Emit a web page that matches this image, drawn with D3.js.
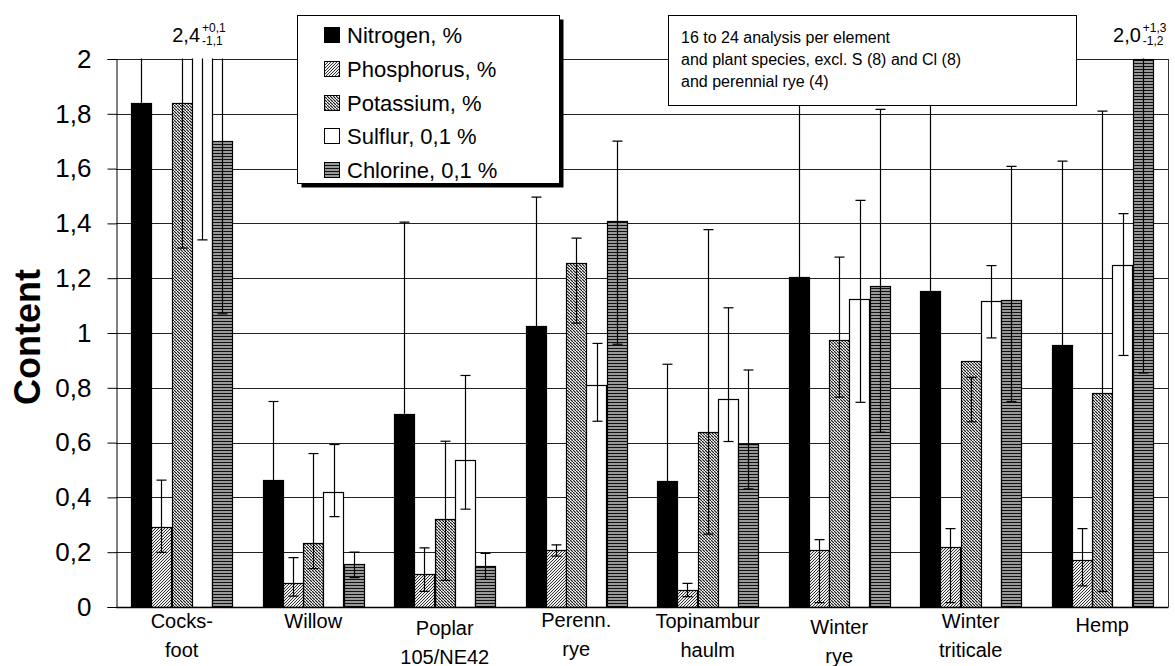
<!DOCTYPE html>
<html>
<head>
<meta charset="utf-8">
<script src="https://cdn.jsdelivr.net/npm/d3@7"></script>
<style>
body { margin: 0; background: #fff; }
text { font-family: "Liberation Sans", Arial, sans-serif; fill: #000; }
</style>
</head>
<body>
<svg id="chart" width="1175" height="666"></svg>
<script>
// categories (two-line labels)
var categories = [["Cocks-", "foot"], ["Willow"], ["Poplar", "105/NE42"], ["Perenn.", "rye"],
                  ["Topinambur", "haulm"], ["Winter", "rye"], ["Winter", "triticale"], ["Hemp"]];
var labelShift = [0, 0, 7, -1, 0, 6, 0, 4];

var seriesNames = ["Nitrogen, %", "Phosphorus, %", "Potassium, %", "Sulflur, 0,1 %", "Chlorine, 0,1 %"];

// mean values
var nitrogen   = [1.84, 0.463, 0.705, 1.024, 0.459, 1.203, 1.153, 0.955];
var phosphorus = [0.293, 0.089, 0.119, 0.209, 0.061, 0.209, 0.220, 0.172];
var potassium  = [1.84, 0.232, 0.322, 1.254, 0.638, 0.973, 0.897, 0.78];
var sulfur     = [2.4, 0.418, 0.536, 0.811, 0.759, 1.124, 1.115, 1.247];
var chlorine   = [1.70, 0.157, 0.151, 1.409, 0.595, 1.173, 1.122, 2.0];

// error bar bounds (low, high); null = not visible
var nitrogenLo   = [null, null, null, null, null, null, null, null];
var nitrogenHi   = [2.05, 0.75, 1.405, 1.496, 0.886, 1.95, 1.95, 1.627];
var phosphorusLo = [0.199, 0.04, 0.057, 0.186, 0.038, 0.016, 0.016, 0.077];
var phosphorusHi = [0.463, 0.18, 0.216, 0.227, 0.086, 0.246, 0.286, 0.286];
var potassiumLo  = [1.31, 0.14, 0.097, 1.036, 0.266, 0.766, 0.676, 0.057];
var potassiumHi  = [2.05, 0.56, 0.605, 1.346, 1.377, 1.277, 0.838, 1.81];
var sulfurLo     = [1.34, 0.33, 0.357, 0.678, 0.604, 0.747, 0.982, 0.918];
var sulfurHi     = [2.5, 0.593, 0.845, 0.962, 1.092, 1.484, 1.246, 1.436];
var chlorineLo   = [1.07, 0.107, 0.101, 0.959, 0.431, 0.638, 0.75, 0.854];
var chlorineHi   = [2.05, 0.20, 0.196, 1.70, 0.865, 1.816, 1.608, 3.3];

var yTicks = [0, 0.2, 0.4, 0.6, 0.8, 1, 1.2, 1.4, 1.6, 1.8, 2];
var yTickLabels = ["0", "0,2", "0,4", "0,6", "0,8", "1", "1,2", "1,4", "1,6", "1,8", "2"];

var noteLines = ["16 to 24 analysis per element", "and plant species, excl. S (8) and Cl (8)", "and perennial rye (4)"];

// off-scale values written above the plot: [category, series, value, plus, minus]
var offScale = [[0, 3, "2,4", "+0,1", "-1,1"], [7, 4, "2,0", "+1,3", "-1,2"]];

var values = [nitrogen, phosphorus, potassium, sulfur, chlorine];
var lows = [nitrogenLo, phosphorusLo, potassiumLo, sulfurLo, chlorineLo];
var highs = [nitrogenHi, phosphorusHi, potassiumHi, sulfurHi, chlorineHi];

var plotLeft = 116, plotRight = 1168, plotTop = 59, plotBottom = 607;

var svg = d3.select("#chart");
var defs = svg.append("defs");

// fills
var pp = defs.append("pattern").attr("id", "pat-p").attr("patternUnits", "userSpaceOnUse")
    .attr("width", 3).attr("height", 3);
pp.append("rect").attr("width", 3).attr("height", 3).attr("fill", "#eee");
pp.append("path").attr("d", "M-1,1 L1,-1 M0,3 L3,0 M2,4 L4,2").attr("stroke", "#333").attr("stroke-width", 1);

var pk = defs.append("pattern").attr("id", "pat-k").attr("patternUnits", "userSpaceOnUse")
    .attr("width", 3).attr("height", 3);
pk.append("rect").attr("width", 3).attr("height", 3).attr("fill", "#fff");
pk.append("path").attr("d", "M-1,-1 L1,1 M0,0 L3,3 M2,2 L4,4").attr("stroke", "#1a1a1a").attr("stroke-width", 1.2);

var pc = defs.append("pattern").attr("id", "pat-cl").attr("patternUnits", "userSpaceOnUse")
    .attr("width", 3).attr("height", 3);
pc.append("rect").attr("width", 3).attr("height", 3).attr("fill", "#999");
pc.append("rect").attr("width", 3).attr("height", 1).attr("fill", "#111");

var fills = ["#000", "url(#pat-p)", "url(#pat-k)", "#fff", "url(#pat-cl)"];

defs.append("clipPath").attr("id", "plotClip")
    .append("rect").attr("x", plotLeft - 1).attr("y", plotTop - 0.5)
    .attr("width", plotRight - plotLeft + 2).attr("height", plotBottom - plotTop + 1);

var x0 = d3.scaleBand().domain(d3.range(categories.length)).range([plotLeft, plotRight])
    .paddingInner(30 / 131.5).paddingOuter(15 / 131.5);
var x1 = d3.scaleBand().domain(d3.range(seriesNames.length)).range([0, x0.bandwidth()]);
var y = d3.scaleLinear().domain([0, 2]).range([plotBottom, plotTop]);

// gridlines
svg.append("g").selectAll("line").data(yTicks.slice(1)).enter().append("line")
    .attr("x1", plotLeft).attr("x2", plotRight)
    .attr("y1", function (d) { return Math.round(y(d)) + 0.5; })
    .attr("y2", function (d) { return Math.round(y(d)) + 0.5; })
    .attr("stroke", "#222").attr("stroke-width", 1);

var plot = svg.append("g").attr("clip-path", "url(#plotClip)");

// bars
values.forEach(function (vals, s) {
    plot.append("g").selectAll("rect").data(vals).enter().append("rect")
        .attr("x", function (d, i) { return Math.round(x0(i) + x1(s)) + 0.5; })
        .attr("width", Math.round(x1.bandwidth()))
        .attr("y", function (d) { return Math.round(y(d)) + 0.5; })
        .attr("height", function (d) { return Math.round(y(0)) - Math.round(y(d)); })
        .attr("fill", fills[s])
        .attr("stroke", "#000").attr("stroke-width", 1.2);
});

// error bars
values.forEach(function (vals, s) {
    vals.forEach(function (v, i) {
        var cx = Math.round(x0(i) + x1(s) + x1.bandwidth() / 2) + 0.5;
        var lo = lows[s][i] === null ? v : lows[s][i];
        var hi = highs[s][i];
        var g = plot.append("g").attr("stroke", "#000").attr("stroke-width", 1.2);
        g.append("line").attr("x1", cx).attr("x2", cx).attr("y1", y(lo)).attr("y2", y(hi));
        g.append("line").attr("x1", cx - 5).attr("x2", cx + 5).attr("y1", y(hi)).attr("y2", y(hi));
        if (lows[s][i] !== null) {
            g.append("line").attr("x1", cx - 5).attr("x2", cx + 5).attr("y1", y(lo)).attr("y2", y(lo));
        }
    });
});

// axes
var yAxis = svg.append("g").attr("transform", "translate(" + (plotLeft + 0.5) + ",0)")
    .call(d3.axisLeft(y).tickValues(yTicks).tickSize(9).tickPadding(16)
        .tickFormat(function (d, i) { return yTickLabels[i]; }));
yAxis.select(".domain").attr("stroke", "#000");
yAxis.selectAll(".tick line").attr("stroke", "#000");
yAxis.selectAll(".tick text").style("font-size", "26px").attr("fill", "#000")
    .style("font-family", "'Liberation Sans', Arial, sans-serif");

svg.append("line").attr("x1", plotLeft).attr("x2", plotRight + 0.5)
    .attr("y1", plotBottom + 0.5).attr("y2", plotBottom + 0.5).attr("stroke", "#000").attr("stroke-width", 1.5);
svg.append("line").attr("x1", plotRight + 0.5).attr("x2", plotRight + 0.5)
    .attr("y1", plotTop).attr("y2", plotBottom).attr("stroke", "#333");

// category labels
var xl = svg.append("g");
categories.forEach(function (lines, i) {
    lines.forEach(function (t, k) {
        xl.append("text")
            .attr("x", x0(i) + x0.bandwidth() / 2)
            .attr("y", 628 + labelShift[i] + k * 29)
            .attr("text-anchor", "middle")
            .style("font-size", "20px")
            .text(t);
    });
});

// y title
svg.append("text")
    .attr("transform", "translate(40," + ((plotTop + plotBottom) / 2 + 4) + ") rotate(-90)")
    .attr("text-anchor", "middle")
    .style("font-size", "36px").style("font-weight", "bold")
    .text("Content");

// off-scale values
offScale.forEach(function (o) {
    var cx = x0(o[0]) + x1(o[1]) + x1.bandwidth() / 2;
    svg.append("text").attr("x", cx - 2).attr("y", 42).attr("text-anchor", "end")
        .style("font-size", "20px").text(o[2]);
    svg.append("text").attr("x", cx).attr("y", 32).style("font-size", "12px").text(o[3]);
    svg.append("text").attr("x", cx).attr("y", 45).style("font-size", "12px").text(o[4]);
});

// legend
var legend = svg.append("g");
legend.append("rect").attr("x", 301.5).attr("y", 19.5).attr("width", 262).attr("height", 168).attr("fill", "#000");
legend.append("rect").attr("x", 297.5).attr("y", 15.5).attr("width", 262).attr("height", 168)
    .attr("fill", "#fff").attr("stroke", "#000");
seriesNames.forEach(function (name, s) {
    var cy = 35 + s * 33.8;
    legend.append("rect").attr("x", 324.5).attr("y", Math.round(cy - 8) + 0.5).attr("width", 15).attr("height", 15)
        .attr("fill", fills[s]).attr("stroke", "#000");
    legend.append("text").attr("x", 347).attr("y", cy + 8).style("font-size", "22px").text(name);
});

// note box
var note = svg.append("g");
note.append("rect").attr("x", 668.5).attr("y", 15.5).attr("width", 408).attr("height", 90)
    .attr("fill", "#fff").attr("stroke", "#000");
noteLines.forEach(function (t, k) {
    note.append("text").attr("x", 681).attr("y", 43 + k * 22).style("font-size", "16px").text(t);
});
</script>
</body>
</html>
